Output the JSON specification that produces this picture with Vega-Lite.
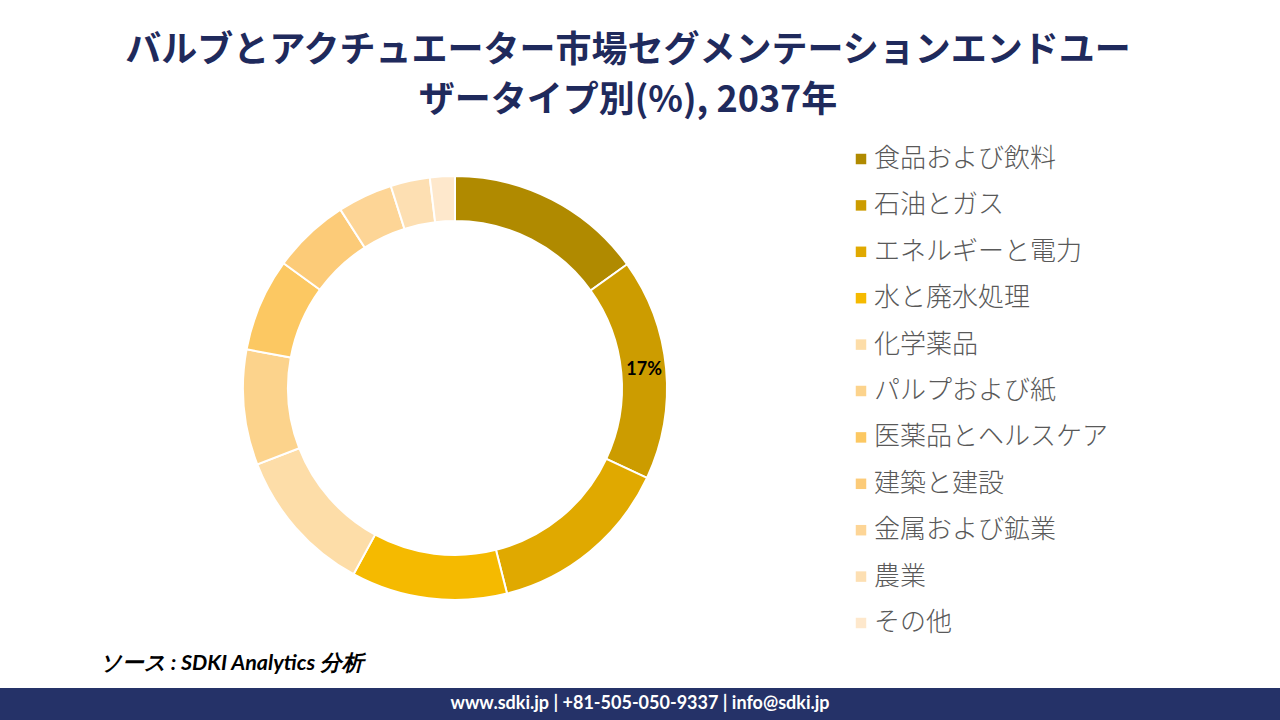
{
  "$schema": "https://vega.github.io/schema/vega-lite/v6.json",
  "background": "white",
  "padding": {"top": 33, "left": 0, "right": 0, "bottom": 0},
  "title": {
    "text": ["バルブとアクチュエーター市場セグメンテーションエンドユー", "ザータイプ別(%), 2037年"],
    "font": "Noto Sans CJK JP",
    "fontSize": 36,
    "fontWeight": "bold",
    "lineHeight": 50,
    "color": "#1F2A5C",
    "anchor": "middle",
    "dx": -12,
    "offset": 21
  },
  "spacing": 17,
  "config": {"view": {"stroke": null}},
  "vconcat": [
    {
      "width": 910,
      "height": 494,
      "data": {
        "values": [
          {"segment": "食品および飲料", "share": 15.1, "rank": 1, "label": ""},
          {"segment": "石油とガス", "share": 16.9, "rank": 2, "label": "17%"},
          {"segment": "エネルギーと電力", "share": 14.1, "rank": 3, "label": ""},
          {"segment": "水と廃水処理", "share": 11.9, "rank": 4, "label": ""},
          {"segment": "化学薬品", "share": 11.2, "rank": 5, "label": ""},
          {"segment": "パルプおよび紙", "share": 8.8, "rank": 6, "label": ""},
          {"segment": "医薬品とヘルスケア", "share": 7.1, "rank": 7, "label": ""},
          {"segment": "建築と建設", "share": 5.9, "rank": 8, "label": ""},
          {"segment": "金属および鉱業", "share": 4.2, "rank": 9, "label": ""},
          {"segment": "農業", "share": 3.0, "rank": 10, "label": ""},
          {"segment": "その他", "share": 1.9, "rank": 11, "label": ""}
        ]
      },
      "encoding": {
        "theta": {"field": "share", "type": "quantitative", "stack": true},
        "order": {"field": "rank", "type": "quantitative", "sort": "ascending"}
      },
      "layer": [
        {
          "mark": {"type": "arc", "outerRadius": 212, "innerRadius": 167, "stroke": "white", "strokeWidth": 2},
          "encoding": {
            "color": {
              "field": "segment",
              "type": "nominal",
              "sort": null,
              "scale": {
                "domain": ["食品および飲料", "石油とガス", "エネルギーと電力", "水と廃水処理", "化学薬品", "パルプおよび紙", "医薬品とヘルスケア", "建築と建設", "金属および鉱業", "農業", "その他"],
                "range": ["#B08A00", "#CC9C00", "#E0A900", "#F5BA00", "#FDDDA8", "#FCD38C", "#FCC862", "#FCCB78", "#FDD596", "#FDDFB2", "#FEE8CC"]
              },
              "legend": {
                "title": null,
                "orient": "none",
                "legendX": 848,
                "legendY": 5,
                "symbolType": "square",
                "symbolSize": 110,
                "symbolStrokeWidth": 0,
                "labelFont": "Noto Sans CJK JP",
                "labelFontSize": 26,
                "labelFontWeight": 300,
                "labelColor": "#595959",
                "labelOffset": 0,
                "rowPadding": 20.4,
                "labelLimit": 400
              }
            }
          }
        },
        {
          "mark": {"type": "text", "radius": 190, "font": "Lato", "fontSize": 18, "fontWeight": "bold", "color": "#000000"},
          "encoding": {
            "text": {"field": "label", "type": "nominal"}
          }
        }
      ]
    },
    {
      "width": 1280,
      "height": 32,
      "view": {"fill": "#253268", "stroke": null},
      "title": {
        "text": "ソース : SDKI Analytics 分析",
        "anchor": "start",
        "dx": 100,
        "font": "Lato",
        "fontSize": 21.5,
        "fontStyle": "italic",
        "fontWeight": "bold",
        "color": "#000000",
        "offset": 14
      },
      "data": {"values": [{"t": "www.sdki.jp | +81-505-050-9337 | info@sdki.jp"}]},
      "mark": {"type": "text", "font": "Lato", "fontSize": 18, "fontWeight": "bold", "color": "white"},
      "encoding": {"text": {"field": "t", "type": "nominal"}}
    }
  ]
}
